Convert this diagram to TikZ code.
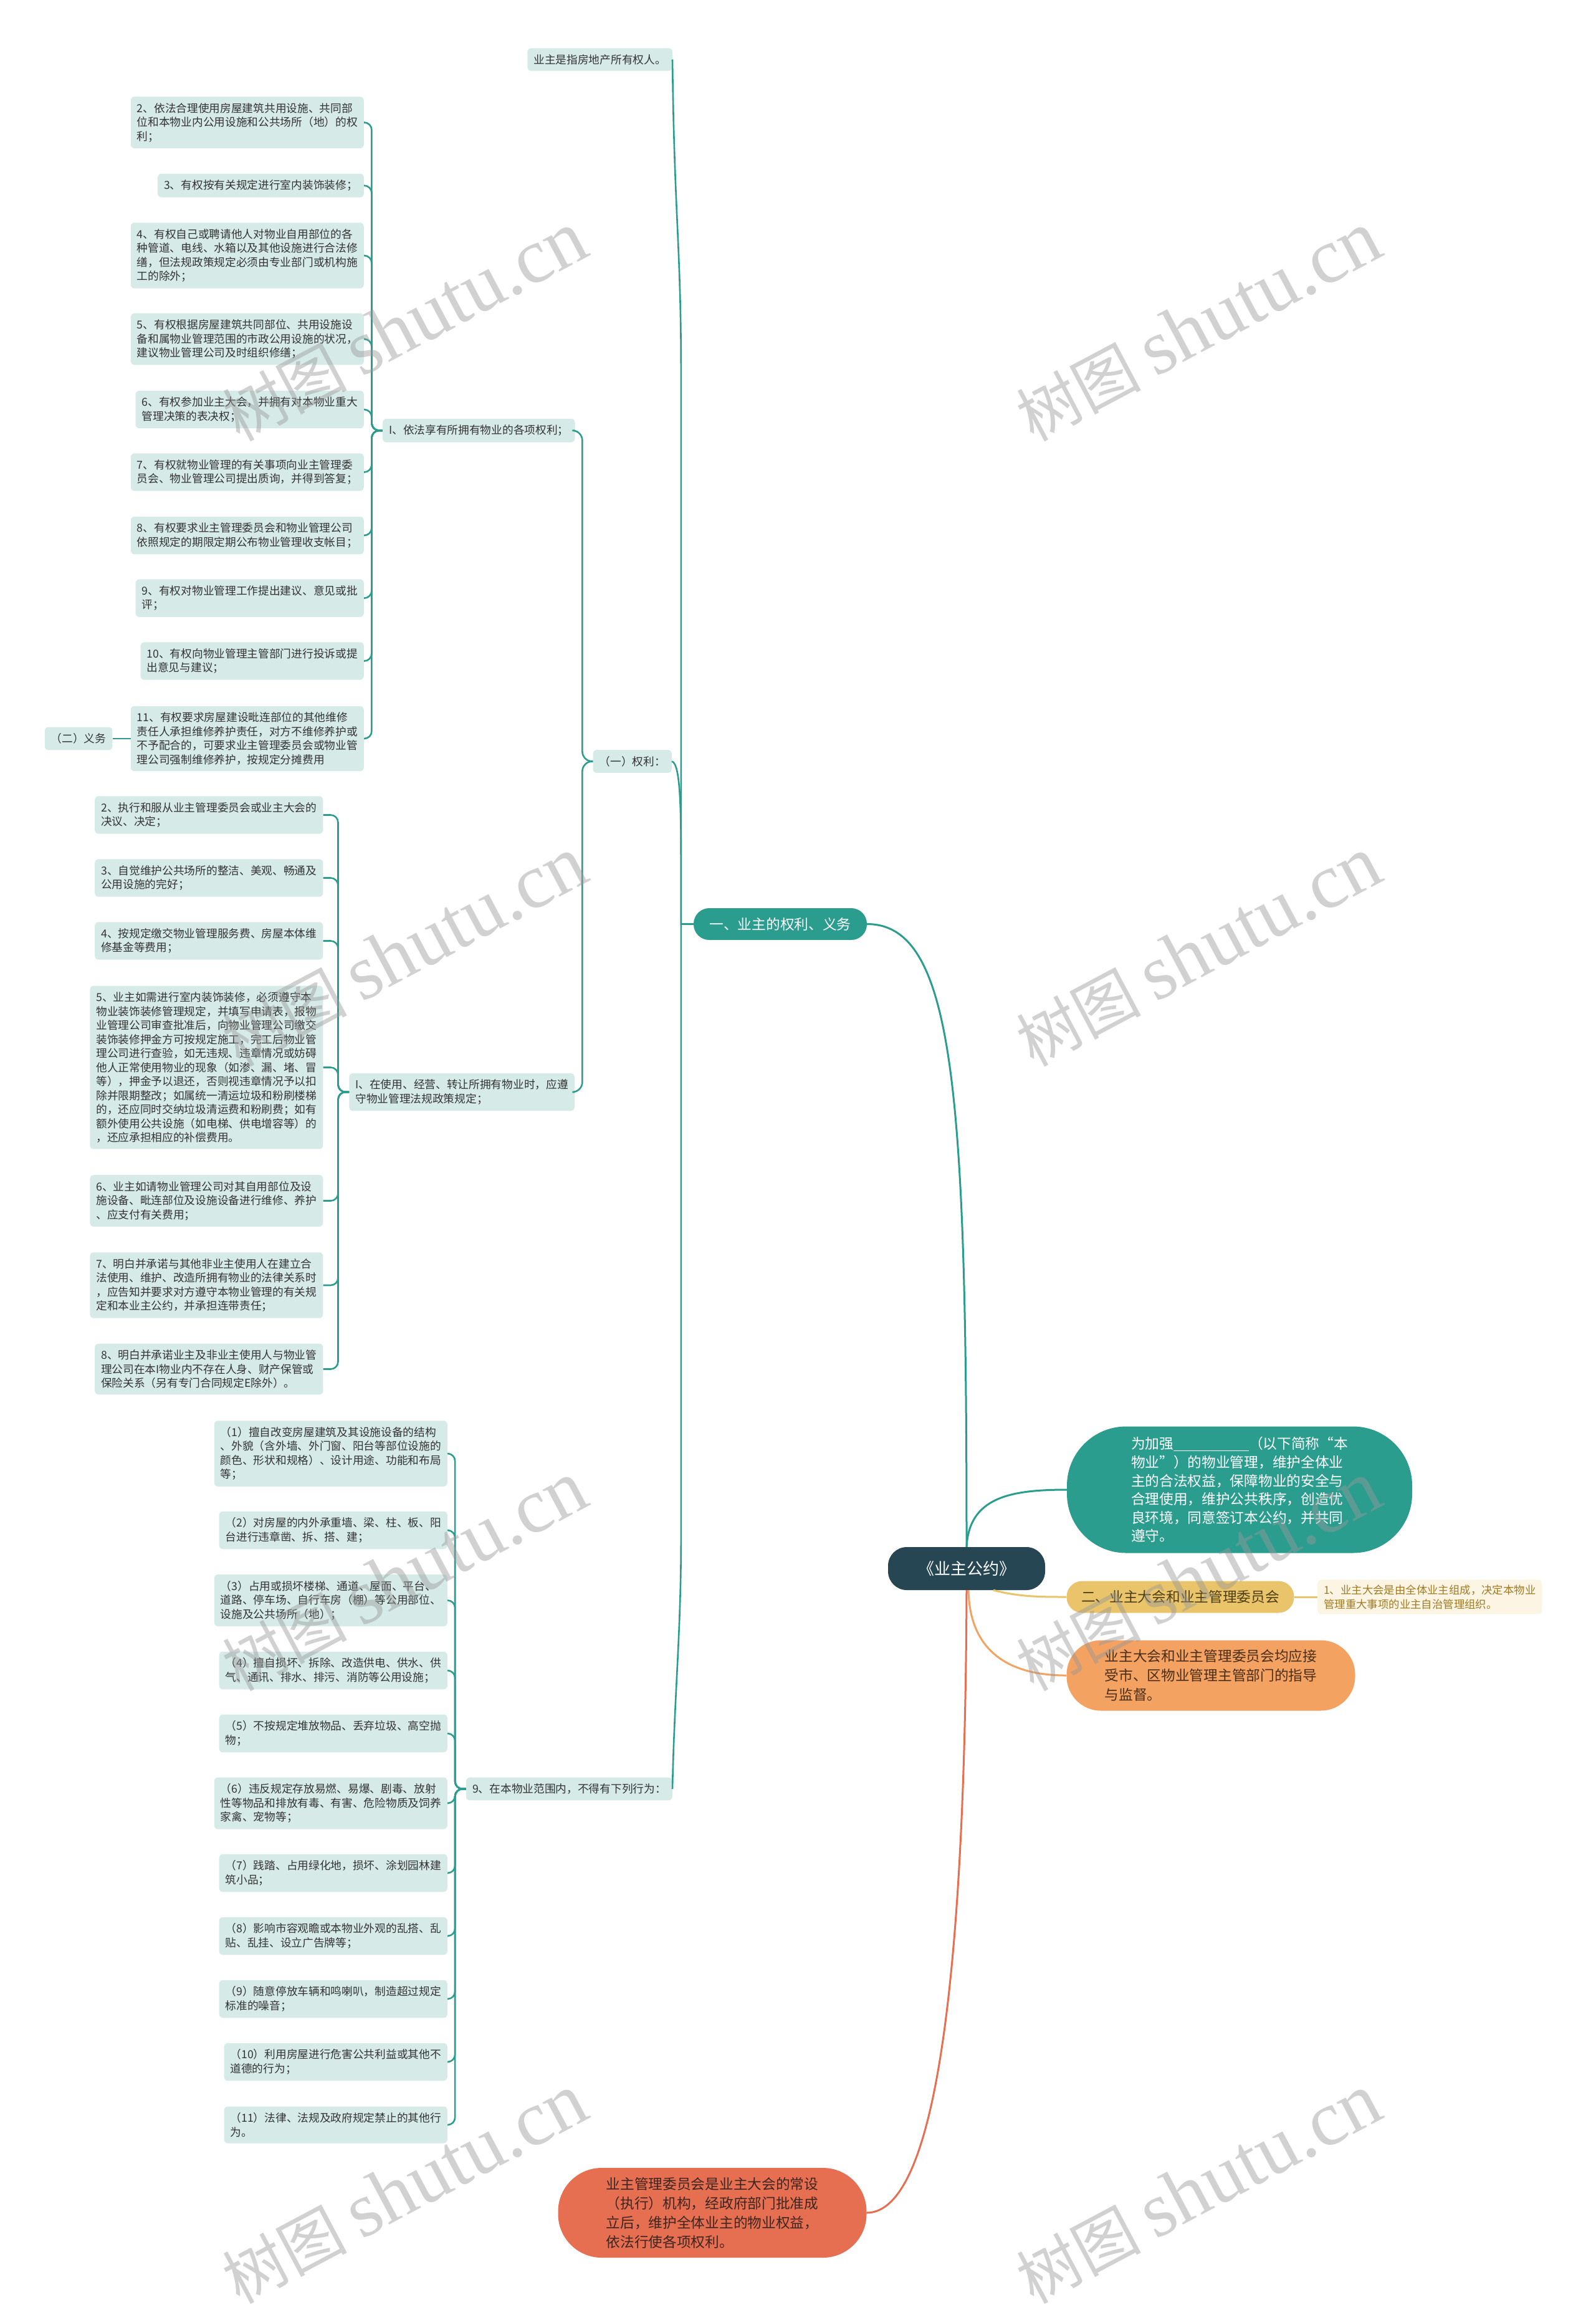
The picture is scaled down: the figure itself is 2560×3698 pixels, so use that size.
\documentclass[tikz,border=0pt]{standalone}
\usepackage{fontspec}
\setmainfont{Noto Sans CJK SC}
\newfontfamily\wmlatin{Liberation Serif}
\usetikzlibrary{calc}
\definecolor{cnavy}{HTML}{264653}
\definecolor{cteal}{HTML}{2A9D8F}
\definecolor{cyel}{HTML}{E9C46A}
\definecolor{corange}{HTML}{F4A261}
\definecolor{cred}{HTML}{E76F51}
\definecolor{cleaf}{HTML}{D6EBE8}
\definecolor{cyleaf}{HTML}{FDF5E3}
\definecolor{ctext}{HTML}{333333}
\definecolor{cytext}{HTML}{A07A24}
\definecolor{cybrown}{HTML}{4D3D12}
\definecolor{cbrown}{HTML}{4A2E17}
\definecolor{credtext}{HTML}{3D2520}
\begin{document}
\begin{tikzpicture}[x=1pt,y=-1pt,
  leaf/.style={fill=cleaf, rounded corners=6pt, inner xsep=10pt, inner ysep=10pt,
    align=left, text=ctext, font=\fontsize{17.7}{22.5}\selectfont, anchor=east},
  yleaf/.style={fill=cyleaf, rounded corners=6pt, inner xsep=10pt, inner ysep=8pt,
    align=left, text=cytext, font=\fontsize{17.4}{23}\selectfont, anchor=west},
  big/.style={align=left, inner sep=0pt, font=\fontsize{22.7}{30}\selectfont},
  conn/.style={draw=cteal, line width=2.6pt},
  rootconn/.style={line width=3pt},
  bracket/.style={conn, rounded corners=12pt},
  wm/.style={rotate=28, text=black!40, text opacity=0.45, inner sep=0pt}
]
\fill[white] (0,0) rectangle (2560,3698);
\useasboundingbox (0,0) rectangle (2560,3698);

% ---------- root and first-level nodes ----------
\node[fill=cnavy, rounded corners=30pt, minimum width=252pt, minimum height=69pt,
  text=white, font=\fontsize{26}{30}\selectfont, inner sep=0pt] (root) at (1551,2516.5) {《业主公约》};
\node[fill=cteal, rounded corners=25pt, minimum width=278pt, minimum height=51pt,
  text=white, big, align=center] (one) at (1252,1482.5) {一、业主的权利、义务};
\node[fill=cteal, rounded corners=95pt, minimum width=554pt, minimum height=203pt,
  text=white, big, font=\fontsize{22.7}{29.6}\selectfont] (intro) at (1989,2390)
  {为加强\rule[-3pt]{121pt}{1.3pt}（以下简称“本\\物业”）的物业管理，维护全体业\\主的合法权益，保障物业的安全与\\合理使用，维护公共秩序，创造优\\良环境，同意签订本公约，并共同\\遵守。};
\node[fill=cyel, rounded corners=25pt, minimum width=365pt, minimum height=51pt,
  text=cybrown, big, align=center] (two) at (1894,2562) {二、业主大会和业主管理委员会};
\node[yleaf] (twoleaf) at (2114,2562) {1、业主大会是由全体业主组成，决定本物业\\管理重大事项的业主自治管理组织。};
\node[fill=corange, rounded corners=55pt, minimum width=463pt, minimum height=113pt,
  text=cbrown, big, font=\fontsize{22.7}{31}\selectfont] (agm) at (1943,2688)
  {业主大会和业主管理委员会均应接\\受市、区物业管理主管部门的指导\\与监督。};
\node[fill=cred, rounded corners=70pt, minimum width=495pt, minimum height=144pt,
  text=credtext, big, font=\fontsize{22.7}{31}\selectfont] (cmte) at (1143,3550)
  {业主管理委员会是业主大会的常设\\（执行）机构，经政府部门批准成\\立后，维护全体业主的物业权益，\\依法行使各项权利。};

% ---------- branch one ----------
\node[leaf] (top) at (1079,95.5) {业主是指房地产所有权人。};
\node[leaf] (rt) at (1078,1221.5) {（一）权利：};
\node[leaf] (n9) at (1079,2870) {9、在本物业范围内，不得有下列行为：};
\node[leaf] (rI) at (922.7,690.7) {I、依法享有所拥有物业的各项权利；};
\node[leaf] (oI) at (922,1752) {I、在使用、经营、转让所拥有物业时，应遵\\守物业管理法规政策规定；};

% rights
\node[leaf] (r2) at (584,196.5) {2、依法合理使用房屋建筑共用设施、共同部\\位和本物业内公用设施和公共场所（地）的权\\利；};
\node[leaf] (r3) at (584,297.7) {3、有权按有关规定进行室内装饰装修；};
\node[leaf] (r4) at (584,410) {4、有权自己或聘请他人对物业自用部位的各\\种管道、电线、水箱以及其他设施进行合法修\\缮，但法规政策规定必须由专业部门或机构施\\工的除外；};
\node[leaf] (r5) at (584,544) {5、有权根据房屋建筑共同部位、共用设施设\\备和属物业管理范围的市政公用设施的状况，\\建议物业管理公司及时组织修缮；};
\node[leaf] (r6) at (584,657) {6、有权参加业主大会，并拥有对本物业重大\\管理决策的表决权；};
\node[leaf] (r7) at (584,757.5) {7、有权就物业管理的有关事项向业主管理委\\员会、物业管理公司提出质询，并得到答复；};
\node[leaf] (r8) at (584,859) {8、有权要求业主管理委员会和物业管理公司\\依照规定的期限定期公布物业管理收支帐目；};
\node[leaf] (r9) at (584,959.6) {9、有权对物业管理工作提出建议、意见或批\\评；};
\node[leaf] (r10) at (584,1060.5) {10、有权向物业管理主管部门进行投诉或提\\出意见与建议；};
\node[leaf] (r11) at (584,1185) {11、有权要求房屋建设毗连部位的其他维修\\责任人承担维修养护责任，对方不维修养护或\\不予配合的，可要求业主管理委员会或物业管\\理公司强制维修养护，按规定分摊费用};
\node[leaf] (duty) at (180.5,1185) {（二）义务};

% obligations
\node[leaf] (o2) at (518.5,1307.5) {2、执行和服从业主管理委员会或业主大会的\\决议、决定；};
\node[leaf] (o3) at (518.5,1408.5) {3、自觉维护公共场所的整洁、美观、畅通及\\公用设施的完好；};
\node[leaf] (o4) at (518.5,1509.5) {4、按规定缴交物业管理服务费、房屋本体维\\修基金等费用；};
\node[leaf] (o5) at (518.5,1712.5) {5、业主如需进行室内装饰装修，必须遵守本\\物业装饰装修管理规定，并填写申请表，报物\\业管理公司审查批准后，向物业管理公司缴交\\装饰装修押金方可按规定施工，完工后物业管\\理公司进行查验，如无违规、违章情况或妨碍\\他人正常使用物业的现象（如渗、漏、堵、冒\\等），押金予以退还，否则视违章情况予以扣\\除并限期整改；如属统一清运垃圾和粉刷楼梯\\的，还应同时交纳垃圾清运费和粉刷费；如有\\额外使用公共设施（如电梯、供电增容等）的\\，还应承担相应的补偿费用。};
\node[leaf] (o6) at (518.5,1926.5) {6、业主如请物业管理公司对其自用部位及设\\施设备、毗连部位及设施设备进行维修、养护\\、应支付有关费用；};
\node[leaf] (o7) at (518.5,2062) {7、明白并承诺与其他非业主使用人在建立合\\法使用、维护、改造所拥有物业的法律关系时\\，应告知并要求对方遵守本物业管理的有关规\\定和本业主公约，并承担连带责任；};
\node[leaf] (o8) at (518.5,2196.5) {8、明白并承诺业主及非业主使用人与物业管\\理公司在本I物业内不存在人身、财产保管或\\保险关系（另有专门合同规定E除外）。};

% prohibited acts
\node[leaf] (p1) at (718,2332) {（1）擅自改变房屋建筑及其设施设备的结构\\、外貌（含外墙、外门窗、阳台等部位设施的\\颜色、形状和规格）、设计用途、功能和布局\\等；};
\node[leaf] (p2) at (718,2455) {（2）对房屋的内外承重墙、梁、柱、板、阳\\台进行违章凿、拆、搭、建；};
\node[leaf] (p3) at (718,2567.5) {（3）占用或损坏楼梯、通道、屋面、平台、\\道路、停车场、自行车房（棚）等公用部位、\\设施及公共场所（地）；};
\node[leaf] (p4) at (718,2680) {（4）擅自损坏、拆除、改造供电、供水、供\\气、通讯、排水、排污、消防等公用设施；};
\node[leaf] (p5) at (718,2781) {（5）不按规定堆放物品、丢弃垃圾、高空抛\\物；};
\node[leaf] (p6) at (718,2893) {（6）违反规定存放易燃、易爆、剧毒、放射\\性等物品和排放有毒、有害、危险物质及饲养\\家禽、宠物等；};
\node[leaf] (p7) at (718,3005) {（7）践踏、占用绿化地，损坏、涂划园林建\\筑小品；};
\node[leaf] (p8) at (718,3106) {（8）影响市容观瞻或本物业外观的乱搭、乱\\贴、乱挂、设立广告牌等；};
\node[leaf] (p9) at (718,3207) {（9）随意停放车辆和鸣喇叭，制造超过规定\\标准的噪音；};
\node[leaf] (p10) at (718,3308) {（10）利用房屋进行危害公共利益或其他不\\道德的行为；};
\node[leaf] (p11) at (718,3409) {（11）法律、法规及政府规定禁止的其他行\\为。};

% ---------- connectors ----------
\coordinate (rx) at ($(rI.west)+(-17.5,0)$);
\foreach \n in {r2,r3,r4,r5,r6,r7,r8,r9,r10,r11}
  \draw[bracket] (\n.east) -| (rx) [sharp corners] -- (rI.west);
\draw[conn] (r11.west) -- (duty.east);

\coordinate (ox) at ($(oI.west)+(-17.6,0)$);
\foreach \n in {o2,o3,o4,o5,o6,o7,o8}
  \draw[bracket] (\n.east) -| (ox) [sharp corners] -- (oI.west);

\coordinate (px) at ($(n9.west)+(-17.7,0)$);
\foreach \n in {p1,p2,p3,p4,p5,p6,p7,p8,p9,p10,p11}
  \draw[bracket] (\n.east) -| (px) [sharp corners] -- (n9.west);

\coordinate (tx) at ($(rt.west)+(-17,0)$);
\foreach \n in {rI,oI}
  \draw[conn, rounded corners=16pt] (\n.east) -| (tx) [sharp corners] -- (rt.west);

\coordinate (mx) at ($(one.west)+(-20,0)$);
\draw[conn] (top.east) .. controls +(3,250) and +(0,-200) .. ($(mx |- top.east)+(0,500)$) -- (mx) -- (one.west);
\draw[conn] (rt.east) .. controls +(15,3) and +(0,-90) .. ($(mx |- rt.east)+(0,180)$) -- (mx);
\draw[conn] (n9.east) .. controls +(3,-150) and +(0,150) .. ($(mx |- n9.east)+(0,-400)$) -- (mx);

\draw[rootconn, draw=cteal] (root.north) .. controls +(0,-730) and +(140,0) .. (one.east);
\draw[rootconn, draw=cteal] (root.north) .. controls +(4,-80) and +(-90,0) .. (intro.west);
\draw[rootconn, draw=cyel] ($(root.south)+(43,0)$) .. controls +(40,10) and +(-50,0) .. (two.west);
\draw[rootconn, draw=cyel] (two.east) -- (twoleaf.west);
\draw[rootconn, draw=corange] ($(root.south)+(3,0)$) .. controls +(2,100) and +(-90,0) .. (agm.west);
\draw[rootconn, draw=cred] (root.south) .. controls +(-3,750) and +(90,0) .. (cmte.east);

% ---------- watermarks ----------
\foreach \wx/\wy [count=\i] in {649/524,1923/524,649/1527,1923/1527,649/2529,1923/2529,649/3512,1923/3512}
  \node[wm] (wm\i) at (\wx,\wy) {{\fontsize{100}{100}\selectfont 树图}\hspace{22pt}{\wmlatin\fontsize{125}{125}\selectfont shutu.cn}};
\end{tikzpicture}
\end{document}
